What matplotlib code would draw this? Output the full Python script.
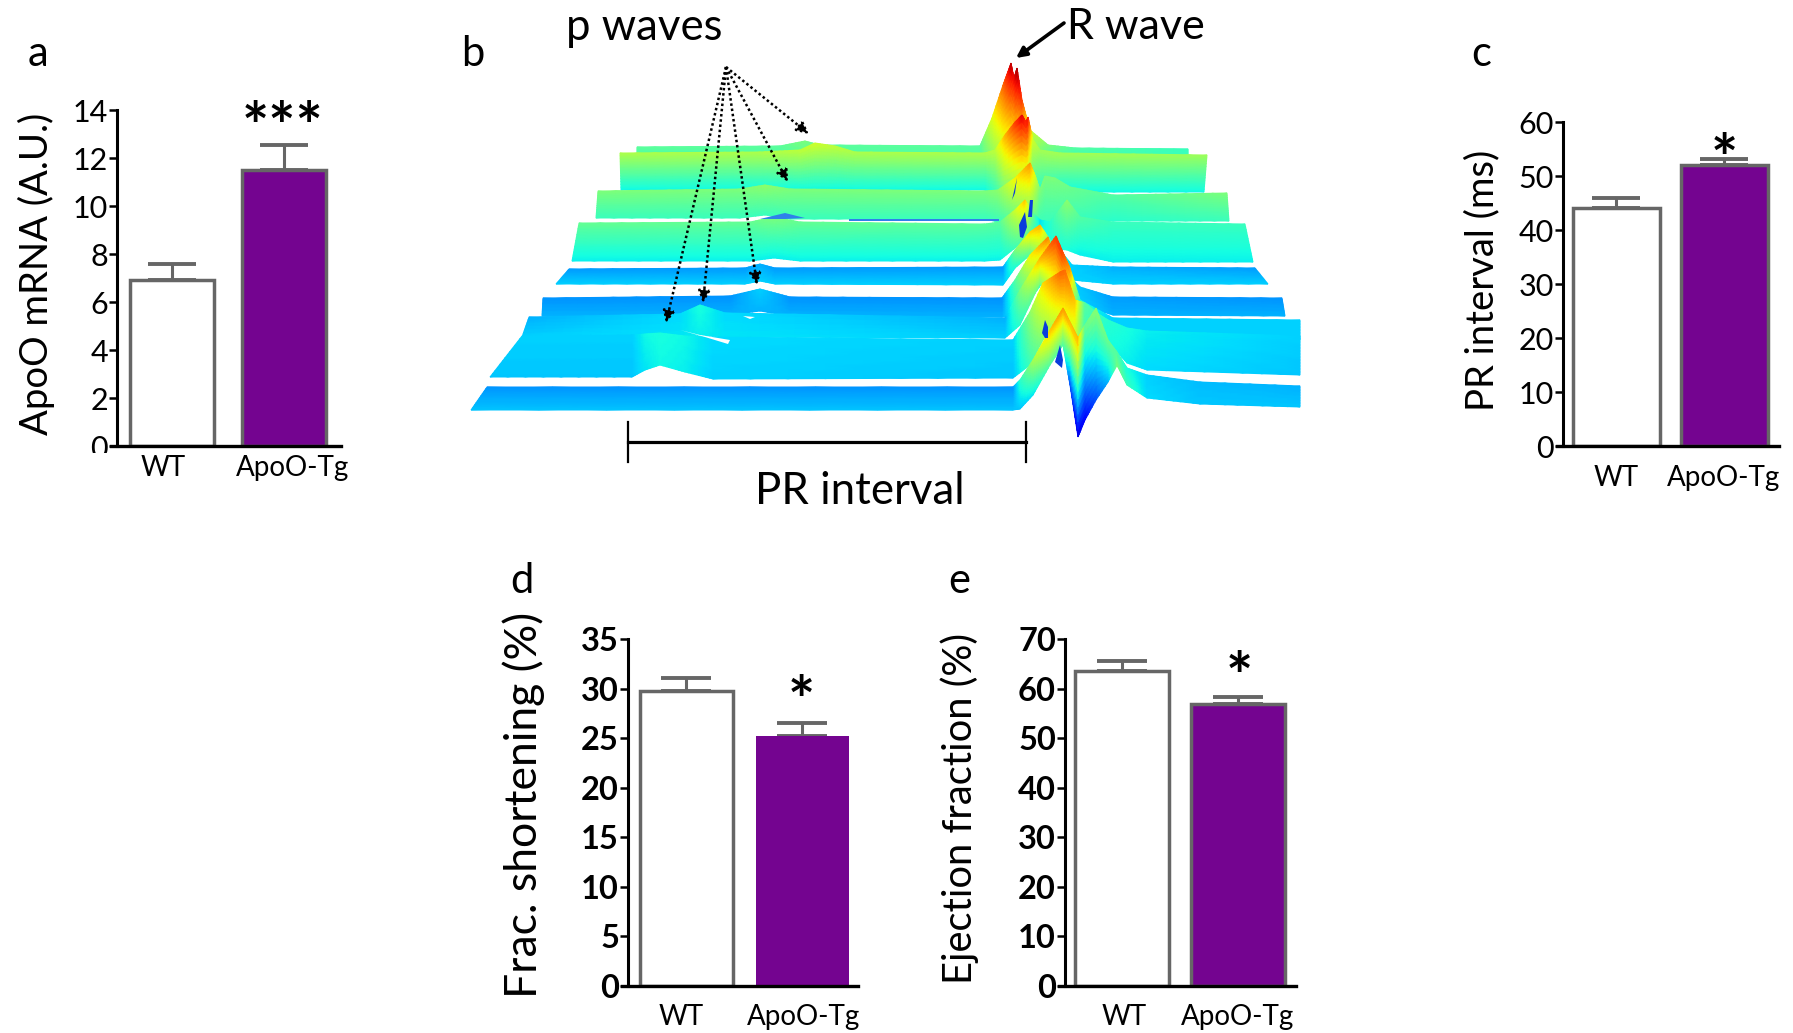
import numpy as np
import matplotlib
matplotlib.use("Agg")
import matplotlib.pyplot as plt
from matplotlib.patches import Rectangle

W, H = 1793, 1033
plt.rcParams["font.family"] = ["Lato", "DejaVu Sans"]

# bar panels
groups = ["WT", "ApoO-Tg"]
apoo_mrna = [6.9, 11.5]
apoo_mrna_err = [0.7, 1.05]
pr_interval = [44, 52]
pr_interval_err = [2.0, 1.1]
frac_short = [29.8, 25.2]
frac_short_err = [1.3, 1.3]
ejection = [63.5, 56.8]
ejection_err = [2.0, 1.6]

# panel b: ribbons back to front in pixels
rib_x = [
    [637, 780, 805, 820, 980, 992, 1003, 1011, 1014, 1017, 1022, 1030, 1048, 1075, 1188],
    [620, 760, 800, 815, 835, 855, 985, 995, 1005, 1015, 1022, 1026, 1028, 1033, 1040, 1060, 1207],
    [598, 740, 765, 790, 985, 998, 1015, 1030, 1035, 1040, 1045, 1055, 1070, 1113, 1227],
    [579, 750, 774, 800, 985, 1000, 1015, 1025, 1032, 1040, 1050, 1067, 1080, 1113, 1245],
    [569, 745, 760, 775, 1003, 1015, 1030, 1040, 1050, 1060, 1072, 1113, 1255],
    [543, 730, 760, 790, 1002, 1015, 1030, 1048, 1055, 1070, 1080, 1113, 1282],
    [529, 680, 700, 725, 1005, 1020, 1040, 1056, 1062, 1070, 1080, 1113, 1300],
    [522, 632, 645, 660, 685, 713, 1013, 1030, 1043, 1060, 1065, 1075, 1085, 1100, 1108, 1127, 1147, 1300],
    [487, 1013, 1020, 1033, 1050, 1063, 1070, 1078, 1085, 1096, 1108, 1117, 1127, 1147, 1200, 1300],
]
rib_top = [
    [147, 146, 141, 145, 146, 118, 85, 63, 78, 68, 100, 130, 145, 148, 149],
    [153, 152, 150, 143, 146, 152, 153, 150, 135, 122, 115, 122, 117, 140, 150, 153, 155],
    [191, 189, 185, 189, 191, 190, 178, 163, 175, 190, 176, 178, 187, 195, 193],
    [223, 222, 217, 222, 224, 222, 210, 200, 212, 220, 222, 200, 217, 222, 224],
    [269, 268, 264, 268, 267, 250, 232, 225, 240, 250, 265, 267, 268],
    [298, 296, 289, 297, 298, 280, 255, 237, 262, 277, 287, 297, 298],
    [317, 314, 305, 313, 318, 290, 258, 236, 250, 268, 300, 318, 320],
    [336, 335, 334, 333, 336, 337, 340, 312, 283, 272, 270, 300, 303, 315, 320, 328, 331, 336],
    [387, 387, 380, 360, 330, 308, 322, 338, 325, 308, 340, 352, 368, 375, 382, 386],
]
rib_bot = [
    [160, 160, 160, 160, 160, 160, 160, 160, 160, 160, 160, 160, 160, 160, 157],
    [190, 190, 190, 190, 190, 190, 190, 195, 200, 200, 200, 198, 196, 190, 190, 192, 192],
    [218, 218, 215, 219, 219, 222, 222, 222, 222, 222, 222, 221, 221, 221, 221],
    [261, 261, 258, 261, 261, 260, 248, 240, 240, 240, 248, 250, 255, 262, 262],
    [284, 284, 281, 284, 285, 268, 255, 270, 275, 278, 280, 284, 284],
    [316, 315, 311, 316, 317, 315, 300, 275, 285, 300, 305, 315, 316],
    [337, 337, 335, 337, 338, 325, 283, 310, 320, 330, 335, 339, 340],
    [377, 377, 370, 365, 372, 379, 378, 365, 340, 318, 322, 350, 345, 342, 342, 363, 370, 375],
    [410, 410, 409, 395, 365, 345, 385, 437, 420, 400, 382, 365, 385, 398, 404, 407],
]
# jet colour positions along the top and bottom edge of each ribbon
rib_ctop = [
    [.46, .46, .5, .46, .46, .62, .8, .95, .9, .97, .85, .6, .5, .45, .42],
    [.56, .56, .58, .6, .58, .56, .56, .58, .72, .85, .92, .88, .9, .6, .55, .55, .54],
    [.5, .5, .52, .5, .5, .52, .65, .75, .62, .5, .5, .5, .48, .45, .5],
    [.47, .47, .5, .47, .46, .46, .6, .7, .5, .35, .4, .52, .45, .42, .42],
    [.28, .28, .3, .28, .28, .5, .68, .72, .5, .4, .33, .3, .28],
    [.27, .27, .33, .27, .27, .45, .65, .78, .55, .38, .32, .28, .27],
    [.3, .34, .38, .34, .3, .5, .72, .85, .85, .75, .4, .33, .33],
    [.33, .33, .37, .38, .37, .34, .33, .52, .68, .8, .8, .7, .45, .42, .4, .38, .36, .33],
    [.27, .27, .4, .55, .7, .75, .72, .72, .48, .52, .48, .45, .38, .33, .31, .3],
]
rib_cbot = [
    [.44, .44, .44, .44, .44, .5, .55, .55, .55, .55, .55, .5, .44, .42, .42],
    [.37, .37, .37, .37, .37, .37, .37, .4, .45, .45, .45, .45, .45, .42, .4, .37, .37],
    [.42, .42, .42, .42, .42, .42, .45, .45, .45, .42, .42, .42, .42, .4, .42],
    [.36, .36, .36, .36, .36, .36, .42, .45, .42, .38, .38, .38, .36, .36, .36],
    [.33, .33, .33, .33, .33, .38, .45, .42, .38, .35, .33, .33, .33],
    [.3, .3, .3, .3, .3, .38, .42, .42, .38, .35, .33, .3, .3],
    [.33, .35, .36, .35, .33, .4, .5, .5, .48, .42, .36, .33, .33],
    [.32, .32, .35, .37, .36, .33, .32, .42, .5, .6, .6, .55, .42, .38, .38, .36, .34, .32],
    [.32, .32, .32, .35, .45, .45, .2, .08, .12, .2, .3, .5, .42, .34, .32, .32],
]
# bottom edge ends lean outwards
rib_bot_left = [637, 621, 596, 572, 556, 542, 522, 490, 471]
rib_bot_right = [1188, 1204, 1229, 1253, 1268, 1285, 1300, 1300, 1300]

blue_x = [[1012, 1017, 1015], [1020, 1019, 1025, 1027, 1023], [1028, 1030, 1033, 1032],
          [1042, 1045, 1048, 1048, 1045], [1055, 1060, 1063, 1062]]
blue_y = [[200, 178, 193], [237, 225, 212, 227, 238], [217, 200, 200, 217],
          [333, 320, 327, 338, 338], [362, 345, 360, 368]]
fringe_x = [[760, 785, 805, 785, 760], [849, 999, 999, 849]]
fringe_y = [[219, 213, 218, 219, 219], [219, 219, 220.5, 220.5]]
white_x = [[680, 700, 730, 728, 705], [743, 755, 750]]
white_y = [[330, 335, 340, 344, 337], [316, 317, 319]]

p_tail = (726, 67)
p_heads_x = [666, 703, 757, 788, 809]
p_heads_y = [323, 303, 285, 182, 134]


def px_axes(fig, left, right, top, bottom):
    return fig.add_axes([left / W, 1 - bottom / H, (right - left) / W, (bottom - top) / H])


def bar_panel(fig, rect, centers, width, vals, errs, ymax, step, edge_purple=True, bold=False, cap=17):
    ax = px_axes(fig, *rect)
    gap = centers[1] - centers[0]
    ax.set_xlim((rect[0] - centers[0]) / gap, (rect[1] - centers[0]) / gap)
    ax.set_ylim(0, ymax)
    w = width / gap
    ax.bar(0, vals[0], w, color="white", edgecolor="#666666", linewidth=2.5, zorder=2)
    ax.bar(1, vals[1], w, color="#740490", edgecolor="#666666" if edge_purple else "#740490",
           linewidth=2.5 if edge_purple else 0, zorder=2)
    ax.errorbar([0, 1], vals, yerr=[[0, 0], errs], fmt="none", ecolor="#666666", elinewidth=2.2,
                capsize=cap, capthick=2.8, zorder=1, clip_on=False)
    for s in ["top", "right"]:
        ax.spines[s].set_visible(False)
    ax.spines["left"].set_linewidth(2.2)
    ax.spines["bottom"].set_linewidth(2.4)
    ax.spines["bottom"].set_zorder(3)
    ax.spines["bottom"].set_bounds(ax.get_xlim()[0] - 6 / gap, ax.get_xlim()[1])
    ax.spines["bottom"].set_clip_on(False)
    ax.set_xticks([])
    ax.set_yticks(np.arange(0, ymax + 1, step))
    ax.tick_params(axis="y", length=5.5, width=1.8, pad=1, labelsize=23.5 if bold else 22)
    if bold:
        for t in ax.get_yticklabels():
            t.set_fontweight("bold")
    ax.patch.set_alpha(0)
    return ax


def label(fig, x, y, s, size, **kw):
    fig.text(x / W, 1 - y / H, s, fontsize=size, ha="center", va="center", **kw)


fig = plt.figure(figsize=(W / 100, H / 100), dpi=100, facecolor="white")

# panel b
bx = fig.add_axes([0, 0, 1, 1])
bx.set_xlim(0, W)
bx.set_ylim(H, 0)
bx.axis("off")
for i in range(len(rib_x)):
    n = len(rib_x[i])
    u = np.linspace(0, n - 1, (n - 1) * 8 + 1)
    k = np.arange(n)
    xt = np.interp(u, k, rib_x[i])
    xb_knots = list(rib_x[i])
    xb_knots[0] = rib_bot_left[i]
    xb_knots[-1] = rib_bot_right[i]
    xb = np.interp(u, k, xb_knots)
    yt = np.interp(u, k, rib_top[i])
    yb = np.interp(u, k, rib_bot[i])
    ct = np.interp(u, k, rib_ctop[i])
    cb = np.interp(u, k, rib_cbot[i])
    v = np.linspace(0, 1, 14)[:, None]
    bx.pcolormesh(xb + v * (xt - xb), yb + v * (yt - yb), cb + v * (ct - cb),
                  shading="gouraud", cmap="jet", vmin=0, vmax=1, rasterized=True)
for xs, ys in zip(blue_x, blue_y):
    bx.fill(xs, ys, color="#0a3cdc", lw=0)
for xs, ys in zip(fringe_x, fringe_y):
    bx.fill(xs, ys, color="#2f80ea", lw=0)
for xs, ys in zip(white_x, white_y):
    bx.fill(xs, ys, color="white", lw=0)

for hx, hy in zip(p_heads_x, p_heads_y):
    bx.annotate("", xy=(hx, hy), xytext=p_tail,
                arrowprops=dict(arrowstyle="-|>", ls=(0, (1, 1.1)), lw=1.8, color="black", capstyle="butt",
                                mutation_scale=18, shrinkA=0, shrinkB=0))
bx.annotate("", xy=(1016, 58), xytext=(1064, 23),
            arrowprops=dict(arrowstyle="-|>", lw=2.6, color="black", mutation_scale=15, shrinkA=0, shrinkB=0))
bx.plot([628, 1026], [442, 442], color="black", lw=2.3)
bx.plot([628, 628], [422, 462], color="black", lw=1.6)
bx.plot([1026, 1026], [422, 462], color="black", lw=1.6)

# bar panels
a = bar_panel(fig, (117, 341, 110, 446), (171.5, 283.5), 84, apoo_mrna, apoo_mrna_err, 14, 2)
c = bar_panel(fig, (1563, 1779, 122, 446), (1616, 1724), 87, pr_interval, pr_interval_err, 60, 10)
d = bar_panel(fig, (628, 858, 639, 986), (686, 802), 93, frac_short, frac_short_err, 35, 5,
              edge_purple=False, bold=True, cap=18)
e = bar_panel(fig, (1065, 1296, 639, 986), (1122, 1238), 94, ejection, ejection_err, 70, 10,
              bold=True, cap=18)

# the 0 of panel a is cut off in the source
fig.add_artist(Rectangle((80 / W, 1 - 464 / H), 28 / W, 11 / H, transform=fig.transFigure,
                         facecolor="white", edgecolor="none", zorder=5))

label(fig, 644, 27, "p waves", 31.5)
label(fig, 1136, 27, "R wave", 31)
label(fig, 860, 492, "PR interval", 31.5)

label(fig, 38, 54, "a", 30)
label(fig, 473, 54, "b", 30)
label(fig, 1481, 54, "c", 30)
label(fig, 522, 581, "d", 30)
label(fig, 959, 581, "e", 30)

label(fig, 36, 274, "ApoO mRNA (A.U.)", 27.5, rotation=90)
label(fig, 1482, 280, "PR interval (ms)", 27.5, rotation=90)
label(fig, 524, 805, "Frac. shortening (%)", 32, rotation=90)
label(fig, 960, 808, "Ejection fraction (%)", 28.7, rotation=90)

for lx, ly, s in [(163.5, 468, groups[0]), (293, 468, groups[1]),
                  (1616, 478, groups[0]), (1724, 478, groups[1]),
                  (681.5, 1017, groups[0]), (804, 1017, groups[1]),
                  (1124, 1017, groups[0]), (1238, 1017, groups[1])]:
    label(fig, lx, ly, s, 20)

label(fig, 283, 130, "***", 46, fontweight="bold")
label(fig, 1724, 162, "*", 46, fontweight="bold")
label(fig, 801, 705, "*", 46, fontweight="bold")
label(fig, 1239, 680, "*", 46, fontweight="bold")

fig.savefig("out.png", dpi=100)
